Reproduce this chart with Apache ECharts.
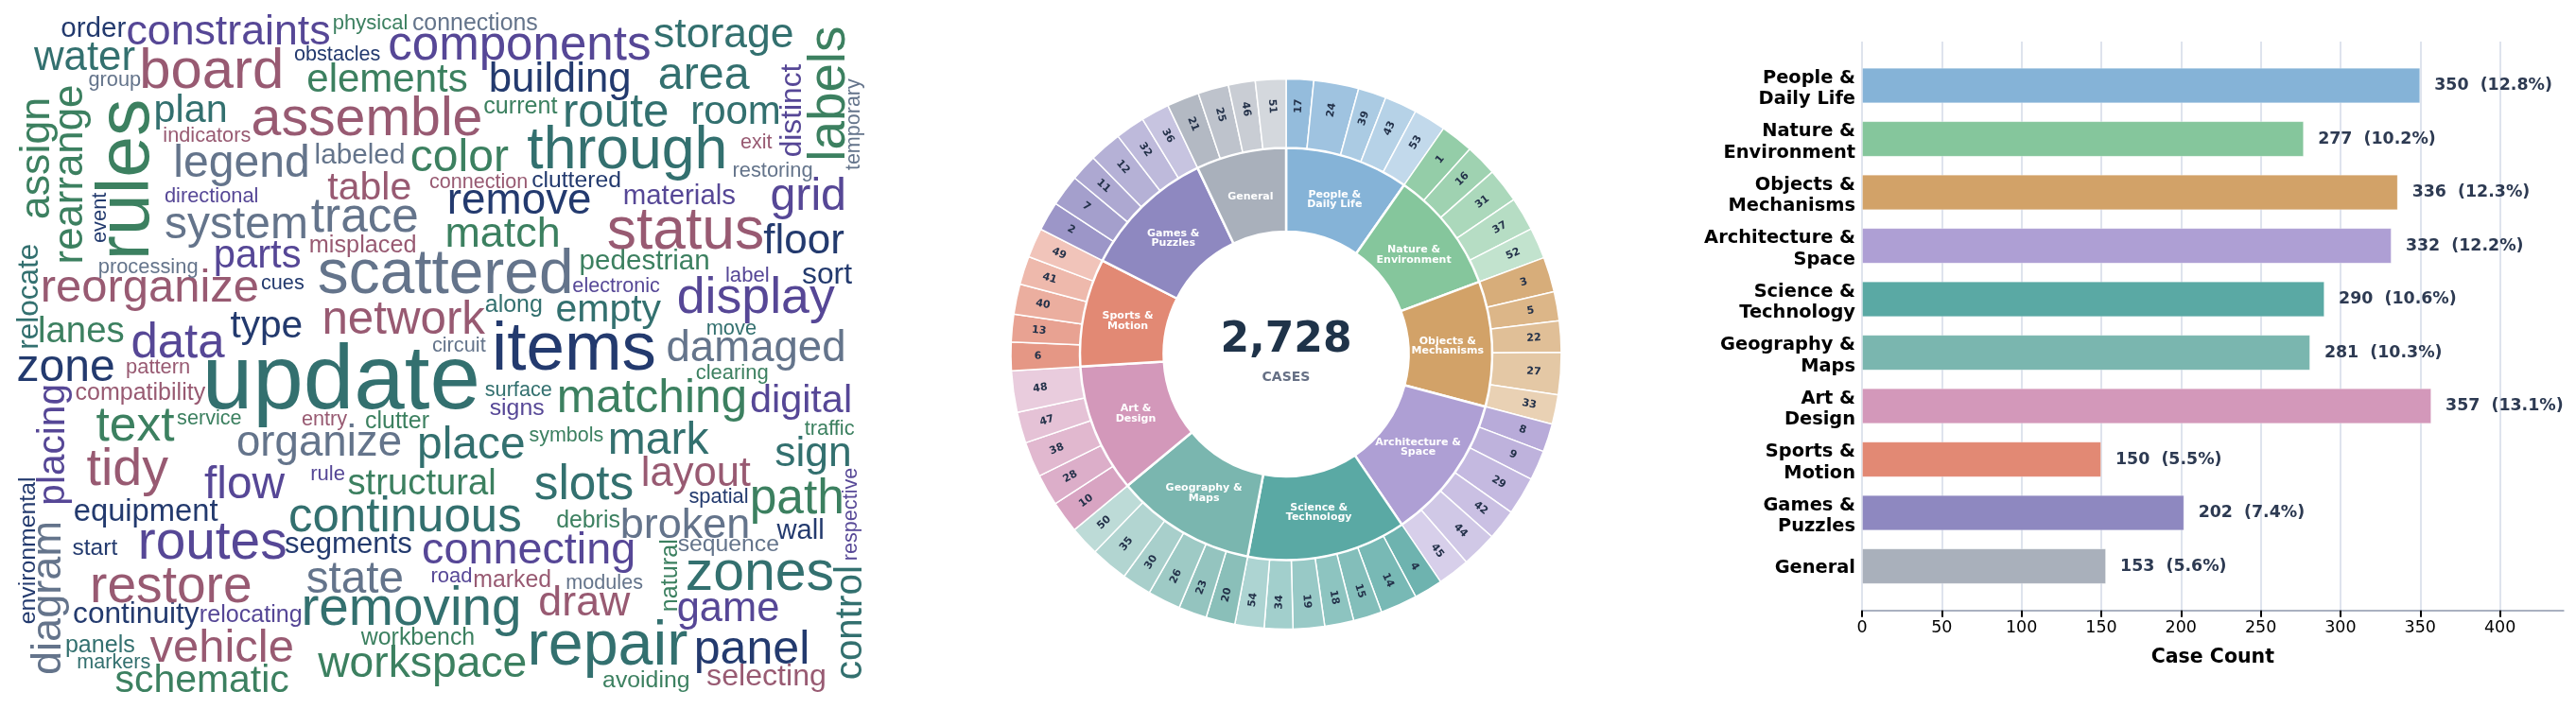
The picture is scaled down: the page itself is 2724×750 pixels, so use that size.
<!DOCTYPE html>
<html>
<head>
<meta charset="utf-8">
<style>html,body{margin:0;padding:0;background:#fff}#c{width:2724px;height:750px}</style>
<script src="https://cdn.jsdelivr.net/npm/echarts@6/dist/echarts.min.js"></script>
</head>
<body>
<div id="c"></div>
<script>
// ---------- Bar / sunburst data ----------
const categories = ['People &\nDaily Life','Nature &\nEnvironment','Objects &\nMechanisms','Architecture &\nSpace','Science &\nTechnology','Geography &\nMaps','Art &\nDesign','Sports &\nMotion','Games &\nPuzzles','General'];
const caseCounts = [350,277,336,332,290,281,357,150,202,153];
const subIds = [
  ['17','24','39','43','53'],
  ['1','16','31','37','52'],
  ['3','5','22','27','33'],
  ['8','9','29','42','44','45'],
  ['4','14','15','18','19','34','54'],
  ['20','23','26','30','35','50'],
  ['10','28','38','47','48'],
  ['6','13','40','41','49'],
  ['2','7','11','12','32','36'],
  ['21','25','46','51']
];
const subSpans = [
  [5.79,9.50,5.94,6.85,6.83],
  [6.95,6.70,7.29,7.09,6.56],
  [7.40,6.15,6.59,8.89,6.27],
  [5.95,6.31,8.07,6.47,7.50,6.75],
  [6.05,7.80,6.07,6.15,6.64,6.03,6.16],
  [6.14,5.97,6.95,6.27,7.92,6.30],
  [6.75,6.65,7.48,6.55,8.76],
  [6.04,5.81,6.38,6.01,6.25],
  [6.15,6.67,5.70,6.85,6.21,6.01],
  [6.82,6.48,5.68,6.45]
];
const xTicks = [0,50,100,150,200,250,300,350,400];

// ---------- Word cloud: [word, start, end, baseline, vertical?] ----------
const wordsNavy = [
 ['order',65,132.7,39.3],['obstacles',311.7,401.7,64.3],['building',519.3,665,96.7],['cluttered',563.3,655.7,198.3],
 ['remove',475,623.3,225.7],['floor',807.7,892.3,268.3],['event',204,256.7,111.7,1],['sort',848.3,900.7,300],
 ['cues',276.7,321,305.7],['type',244.3,319.3,356.7],['items',523.3,690.7,391],['zone',19.3,120,403.3],
 ['spatial',729.3,790.7,532.3],['equipment',78.3,230,550.7],['wall',822.3,871,570],['start',76.7,124,587.3],
 ['segments',301.7,435,585],['environmental',505.7,659,37.3,1],['continuity',77.7,210,659.3],['panel',736.7,853.3,702.3]
];
const wordsTeal = [
 ['water',36,143,74],['storage',692.3,838.3,50],['area',696.7,791.7,94],['plan',165,238.3,129.3],['route',597.3,705,134.3],
 ['room',732.7,823.3,130.7],['through',559.3,767.3,178.3],['relocate',259.3,368.3,40,1],['along',514,572.7,330],
 ['empty',588.3,698.3,340],['move',747.7,799,354.3],['update',218.3,503.3,431.7],['place',443.3,553.3,485],
 ['surface',513.3,583.3,419.3],['mark',644,748.3,480],['sign',821,899,493.3],['slots',566,669,528.3],
 ['continuous',306.7,550,561.7],['zones',726.7,880,624.3],['control',600,717.3,911,1],['removing',321.7,548.3,661],
 ['panels',70,141.7,690],['repair',560,725,703.3],['markers',82.3,158.3,706.7]
];
const wordsGreen = [
 ['physical',353,430,31],['elements',325.7,493.3,96.7],['labels',30,168.3,892.7,1],['current',511.7,589,120],
 ['rules',108.3,271.7,157.3,1],['rearrange',91.7,277.3,87.3,1],['assign',105,230,51.7,1],['color',435,536.7,181],
 ['match',473,590,261],['pedestrian',614.3,749,285],['lanes',41.7,130,361.7],['text',101.7,184.3,465.7],
 ['service',187.7,255,449],['clutter',386.7,453.3,452.7],['structural',369,523.3,522.7],['symbols',560,637.7,467.3],
 ['matching',591.7,787.3,436],['clearing',736.7,811.7,400.7],['traffic',851,903.3,460],['path',795.7,890,542.7],
 ['debris',589,655,558.3],['natural',571.7,645.7,716,1],['workbench',382.3,501.7,681.7],['workspace',336.7,556.7,715.7],
 ['schematic',122.3,305,731.7],['avoiding',638.3,728.3,727.3]
];
const wordsPurple = [
 ['constraints',135,348,46.7],['components',412,686.7,62.7],['distinct',68.3,165.7,846.7,1],['materials',660,776.7,215.7],
 ['grid',816.7,892.7,221.7],['directional',175,272.3,214],['parts',227.7,316.7,283.3],['label',768.3,812.3,298.3],
 ['electronic',606,697.3,309.3],['display',716.7,881.7,330.7],['data',139.3,236.7,378],['placing',408.3,532.3,68.3,1],
 ['flow',216,301,526.7],['rule',329.3,364,508.3],['signs',518.3,575,439],['digital',795,899,436],
 ['respective',495.7,592.3,905.7,1],['routes',148.3,301,591],['connecting',448.3,670,595.7],['road',456.7,498.3,616],
 ['game',717.3,822.7,657.3],['relocating',212.3,318.3,657.7]
];
const wordsRose = [
 ['board',150.7,296.7,92.7],['assemble',267.7,508.3,142.7],['exit',783.3,816,156.7],['indicators',173.3,264.3,150],
 ['connection',455,557.3,199],['table',347.3,434.3,210.7],['status',643.3,806.7,262.7],['misplaced',328.3,439,266.7],
 ['reorganize',45,271.7,319.3],['network',341.7,511.7,353.3],['pattern',134.3,200,395],['compatibility',80,216.7,422.7],
 ['entry',319.3,366.7,450],['tidy',91.7,177.7,512.7],['layout',679,792.7,514.3],['marked',501.7,581.7,621],
 ['restore',97.7,264,636.7],['draw',570,665.7,651],['vehicle',159.3,310,700],['selecting',748.3,872.7,725]
];
const wordsSlate = [
 ['connections',436.7,568,32.3],['group',94.3,148.3,90.7],['temporary',83.3,180,909.3,1],['restoring',775.7,858.3,187.3],
 ['legend',186,325,187.3],['labeled',334.3,426.7,172.7],['system',176,324,251.7],['trace',330,441.7,245],
 ['processing',105,208.3,289.3],['scattered',338.3,604,310],['circuit',457.3,513.3,372.3],['damaged',706.7,892.3,382],
 ['organize',251.7,423.3,482.3],['broken',658.3,790.7,569],['sequence',717.3,823.3,582.7],['modules',599.3,679,623.3],
 ['state',325,425.7,627.3],['diagram',553.3,711.7,64,1]
];

// ---------- Styles ----------
const catColors = ['#85B3D7','#85C69C','#D2A268','#AE9FD4','#5AA9A4','#7AB6AF','#D398BA','#E28974','#8E88C0','#A9B0BB'];
const cloudFont = 'Liberation Sans';
const numFont = 'DejaVu Sans';
const dark = '#2D3A52';

function lighten(hex,t){
  const n=parseInt(hex.slice(1),16),c=[n>>16,(n>>8)&255,n&255].map(v=>Math.round(v+(255-v)*t));
  return `rgb(${c[0]},${c[1]},${c[2]})`;
}
const meas=document.createElement('canvas').getContext('2d');
function cloudSeries(rows,color){
  return {
    type:'scatter',xAxisIndex:0,yAxisIndex:0,symbolSize:1,silent:true,
    itemStyle:{color:'transparent',opacity:1},
    data:rows.map(r=>{
      const [w,a,b,base,vert]=r;
      meas.font=`100px "${cloudFont}"`;
      const m=meas.measureText(w);
      const ink=m.actualBoundingBoxLeft+m.actualBoundingBoxRight;
      const fs=(b-a)/ink*100;
      const mid=(a+b)/2, off=0.275*fs;
      return {
        value: vert?[base-off,mid]:[mid,base-off],
        label:{show:true,position:'inside',formatter:w,fontFamily:cloudFont,fontSize:fs,color:color,opacity:1,rotate:vert?90:0,align:'center',verticalAlign:'middle'}
      };
    })
  };
}

const outerData=[],innerData=[];
categories.forEach((c,i)=>{
  const n=subIds[i].length;
  let s=0;
  subIds[i].forEach((id,j)=>{
    s+=subSpans[i][j];
    outerData.push({name:id,value:subSpans[i][j],itemStyle:{color:lighten(catColors[i],0.12+0.38*j/(n-1))}});
  });
  innerData.push({name:c,value:s,itemStyle:{color:catColors[i]}});
});
const total=caseCounts.reduce((a,b)=>a+b,0);
const center=[1360,374.5];
const catLabelStyle={fontFamily:numFont,fontSize:19.4,fontWeight:'bold',color:'#000'};

const option={
  animation:false,
  backgroundColor:'#fff',
  graphic:[
    {type:'text',x:1360,y:361,z:10,silent:true,style:{text:total.toLocaleString('en-US'),align:'center',verticalAlign:'middle',fontFamily:numFont,fontSize:44,fontWeight:'bold',fill:'#1F3349'}},
    {type:'text',x:1360,y:399,z:10,silent:true,style:{text:'CASES',align:'center',verticalAlign:'middle',fontFamily:numFont,fontSize:14,fontWeight:'bold',fill:'#667085'}}
  ],
  grid:[
    {left:0,top:0,width:960,height:750},
    {left:1969,top:62.25,width:741.7,height:565},
    {left:1969,top:44,width:741.7,height:601.7}
  ],
  xAxis:[
    {gridIndex:0,type:'value',min:0,max:960,show:false},
    {gridIndex:1,type:'value',min:0,max:439.8,show:false},
    {gridIndex:2,type:'value',min:0,max:439.8,interval:50,
      name:'Case Count',nameLocation:'middle',nameGap:39,
      nameTextStyle:{fontFamily:numFont,fontSize:20.5,fontWeight:'bold',color:'#000'},
      axisLine:{show:true,lineStyle:{color:'#A9B1C0',width:2}},
      axisTick:{show:true,length:7,customValues:xTicks,lineStyle:{color:'#000',width:2}},
      axisLabel:{customValues:xTicks,margin:10,fontFamily:numFont,fontSize:17.5,color:'#000'},
      splitLine:{show:true,lineStyle:{color:'#DEE3ED',width:2}}
    }
  ],
  yAxis:[
    {gridIndex:0,type:'value',min:0,max:750,inverse:true,show:false},
    {gridIndex:1,type:'category',inverse:true,data:categories,
      axisLine:{show:false},axisTick:{show:false},
      axisLabel:Object.assign({margin:7,lineHeight:22.5,align:'right',padding:[7,0,0,0],
        formatter:v=>v.includes('\n')?v:`{g|${v}}`,
        rich:{g:Object.assign({padding:[0,0,4,0]},catLabelStyle)}},catLabelStyle)},
    {gridIndex:2,type:'value',show:false,min:0,max:1}
  ],
  series:[
    cloudSeries(wordsNavy,'#233A6E'),
    cloudSeries(wordsTeal,'#33706F'),
    cloudSeries(wordsGreen,'#3C8060'),
    cloudSeries(wordsPurple,'#564796'),
    cloudSeries(wordsRose,'#985A72'),
    cloudSeries(wordsSlate,'#64748B'),
    {type:'pie',center:center,radius:[129.5,218],startAngle:90,clockwise:true,silent:true,
      label:{show:false},labelLine:{show:false},
      itemStyle:{borderColor:'#fff',borderWidth:2.5},data:innerData},
    {type:'pie',center:center,radius:[218.5,291],startAngle:90,clockwise:true,silent:true,
      label:{show:false},labelLine:{show:false},
      itemStyle:{borderColor:'#fff',borderWidth:1.5},data:outerData},
    {type:'pie',center:center,radius:[118,218],startAngle:90,clockwise:true,silent:true,z:5,
      itemStyle:{color:'transparent'},labelLine:{show:false},
      label:{show:true,position:'inside',formatter:'{b}',rotate:0,fontFamily:numFont,fontSize:11,fontWeight:'bold',color:'#fff',lineHeight:10.5,align:'center'},
      data:innerData.map(d=>({name:d.name,value:d.value,itemStyle:{color:'transparent'}}))},
    {type:'pie',center:center,radius:[228,291],startAngle:90,clockwise:true,silent:true,z:5,
      itemStyle:{color:'transparent'},labelLine:{show:false},
      label:{show:true,position:'inside',formatter:'{b}',rotate:'radial',fontFamily:numFont,fontSize:11,fontWeight:'bold',color:'#24324A'},
      data:outerData.map(d=>({name:d.name,value:d.value,itemStyle:{color:'transparent'}}))},
    {type:'bar',xAxisIndex:1,yAxisIndex:1,barWidth:37.7,silent:true,
      data:caseCounts.map((v,i)=>({value:v,itemStyle:{color:catColors[i],borderColor:'rgba(255,255,255,0.3)',borderWidth:1}})),
      label:{show:true,position:'right',distance:15,fontFamily:numFont,fontSize:17.4,fontWeight:'bold',color:dark,
        formatter:p=>`${p.value}  (${(p.value/total*100).toFixed(1)}%)`}}
  ]
};
echarts.init(document.getElementById('c')).setOption(option);
</script>
</body>
</html>
